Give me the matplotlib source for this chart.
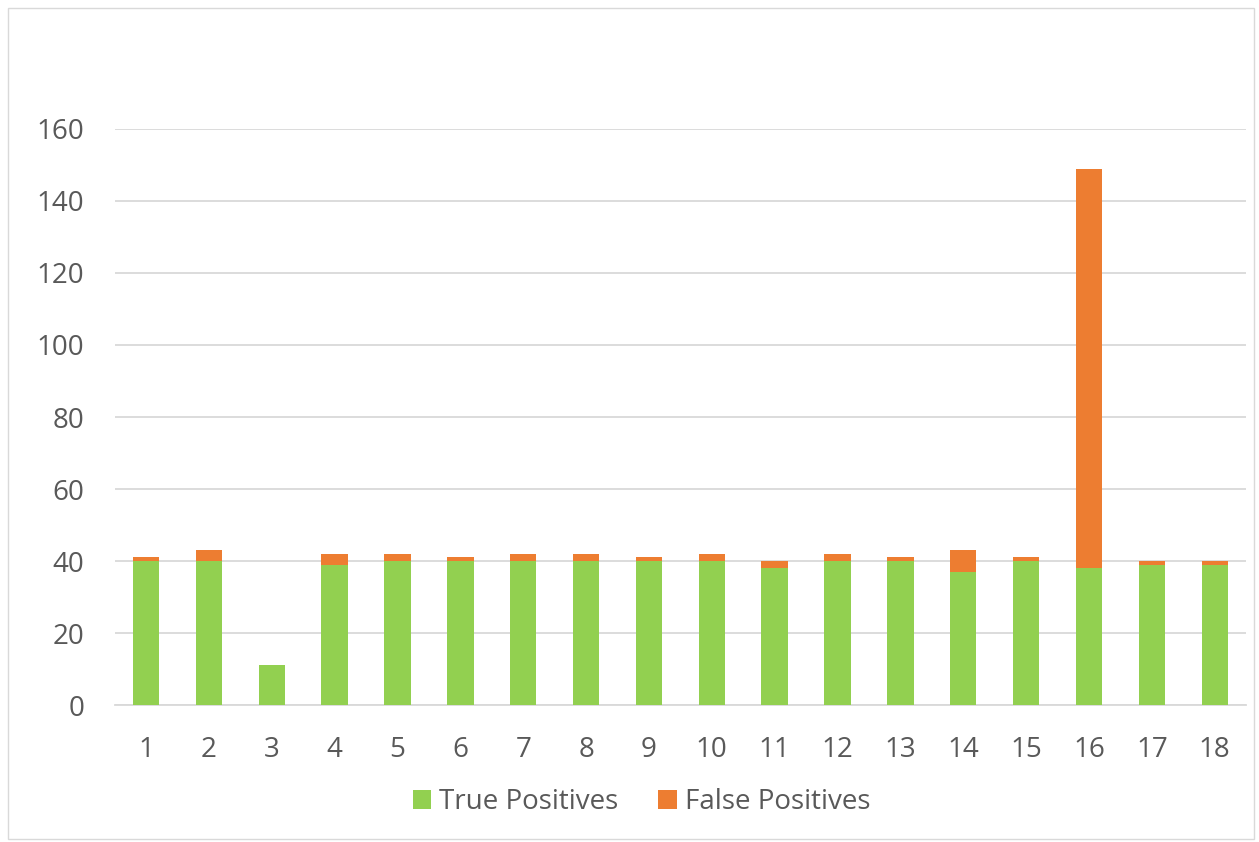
import matplotlib.pyplot as plt
from matplotlib.patches import Rectangle

# datos
categorias = [str(i) for i in range(1, 19)]
true_pos = [40, 40, 11, 39, 40, 40, 40, 40, 40, 40, 38, 40, 40, 37, 40, 38, 39, 39]
false_pos = [1, 3, 0, 3, 2, 1, 2, 2, 1, 2, 2, 2, 1, 6, 1, 111, 1, 1]

verde = "#92D050"
naranja = "#ED7D31"
gris = "#595959"

plt.rcParams['font.family'] = ['Open Sans', 'DejaVu Sans']

fig = plt.figure(figsize=(12.59, 8.42), dpi=100)
ax = fig.add_axes([0.091, 0.1627, 0.8988, 0.6841])

x = list(range(1, 19))
ax.bar(x, true_pos, width=0.42, color=verde, label="True Positives", zorder=3)
ax.bar(x, false_pos, width=0.42, bottom=true_pos, color=naranja,
       label="False Positives", zorder=3)

ax.set_xlim(0.5, 18.5)
ax.set_ylim(0, 160)
ax.set_yticks(range(0, 161, 20))
ax.set_xticks(x)
ax.set_xticklabels(categorias)
ax.yaxis.grid(True, color="#d9d9d9", linewidth=1.3, zorder=0)
ax.tick_params(axis="both", length=0, labelsize=20, labelcolor=gris)
ax.tick_params(axis="x", pad=22)
ax.tick_params(axis="y", pad=22)
for s in ["top", "right", "left"]:
    ax.spines[s].set_visible(False)
ax.spines["bottom"].set_color("#d9d9d9")
ax.spines["bottom"].set_linewidth(1.3)

fig.legend(loc="center", bbox_to_anchor=(0.5095, 0.047), ncol=2, frameon=False,
           fontsize=20, labelcolor=gris, handlelength=0.65, handleheight=0.65,
           columnspacing=1.45, handletextpad=0.3)

# borde del grafico
fig.patches.append(Rectangle((0.006, 0.004), 0.99, 0.986, transform=fig.transFigure,
                             fill=False, edgecolor="#d9d9d9", linewidth=1))

fig.savefig("out.png", dpi=100)
